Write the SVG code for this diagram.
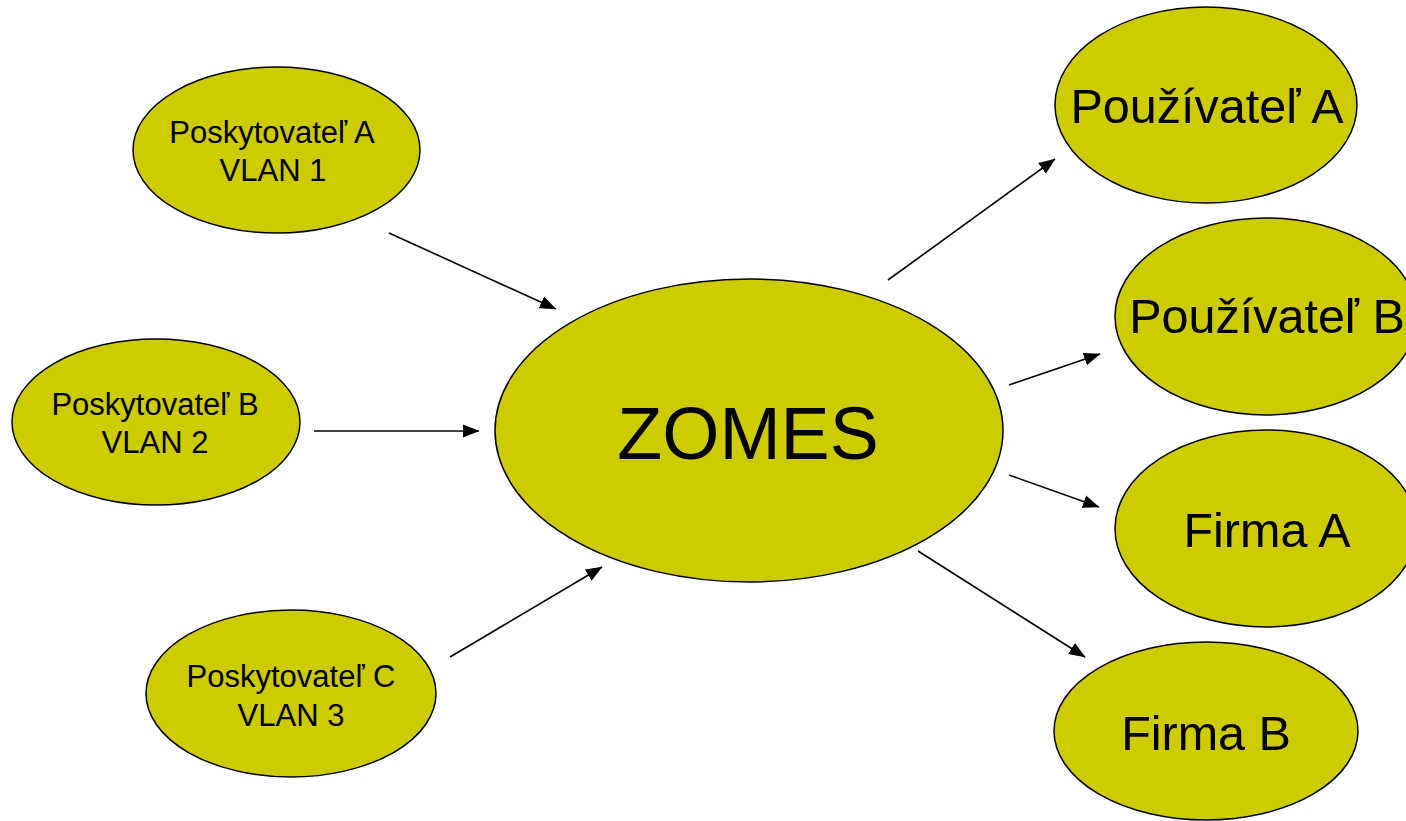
<svg xmlns="http://www.w3.org/2000/svg" width="1406" height="821" viewBox="0 0 1406 821">
<style>
.node ellipse{fill:#CCCC00;stroke:#000;stroke-width:1.5}
text{font-family:"Liberation Sans",Arial,sans-serif;fill:#000;text-anchor:middle}
.s{font-size:31px}
.m{font-size:48.5px}
.l{font-size:73.5px}
.conn line{stroke:#000;stroke-width:1.6;marker-end:url(#ah)}
</style>
<defs>
<marker id="ah" markerWidth="17" markerHeight="14" refX="16" refY="7" orient="auto" markerUnits="userSpaceOnUse" viewBox="0 0 17 14">
<path d="M0,0.5 L16.5,7 L0,13.5 Z" fill="#000"/>
</marker>
</defs>
<rect width="1406" height="821" fill="#fff"/>
<g class="conn">
<line x1="389" y1="233" x2="556" y2="309"/>
<line x1="314" y1="431" x2="479" y2="431"/>
<line x1="450" y1="657" x2="602" y2="567"/>
<line x1="888" y1="280" x2="1055" y2="159"/>
<line x1="1009" y1="385" x2="1100" y2="354"/>
<line x1="1009" y1="475" x2="1099" y2="507"/>
<line x1="918" y1="551" x2="1085" y2="657"/>
</g>
<g id="poskytovatel-a" class="node">
<ellipse cx="276.5" cy="150" rx="143.5" ry="83"/>
<text class="s" x="272" y="143">Poskytovateľ A</text>
<text class="s" x="273" y="181">VLAN 1</text>
</g>
<g id="poskytovatel-b" class="node">
<ellipse cx="156" cy="422" rx="144" ry="83"/>
<text class="s" x="155" y="415">Poskytovateľ B</text>
<text class="s" x="155" y="453">VLAN 2</text>
</g>
<g id="poskytovatel-c" class="node">
<ellipse cx="291" cy="693.5" rx="145" ry="83.5"/>
<text class="s" x="291" y="687">Poskytovateľ C</text>
<text class="s" x="291" y="726">VLAN 3</text>
</g>
<g id="zomes" class="node">
<ellipse cx="749" cy="430.5" rx="254" ry="151.5"/>
<text class="l" x="748" y="459">ZOMES</text>
</g>
<g id="pouzivatel-a" class="node">
<ellipse cx="1206" cy="105" rx="151" ry="98"/>
<text class="m" x="1207" y="123">Používateľ A</text>
</g>
<g id="pouzivatel-b" class="node">
<ellipse cx="1266" cy="316.5" rx="151" ry="98.5"/>
<text class="m" x="1267" y="333">Používateľ B</text>
</g>
<g id="firma-a" class="node">
<ellipse cx="1266" cy="528.5" rx="151" ry="98.5"/>
<text class="m" x="1267" y="547">Firma A</text>
</g>
<g id="firma-b" class="node">
<ellipse cx="1206" cy="731" rx="152" ry="89"/>
<text class="m" x="1206" y="750">Firma B</text>
</g>
</svg>
